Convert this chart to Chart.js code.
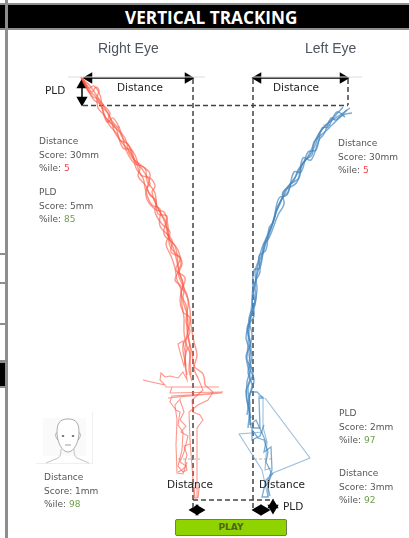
<!DOCTYPE html>
<html>
<head>
<meta charset="utf-8">
<title>Vertical Tracking</title>
<script src="https://cdn.jsdelivr.net/npm/chart.js@4"></script>
<style>
  html, body { margin: 0; padding: 0; background: #fff; overflow: hidden; }
  #page { position: relative; width: 409px; height: 538px; filter: blur(.35px); }
  #chart { position: absolute; left: 0; top: 0; }
  .bar { position: absolute; background: #8e8e8e; }
  .blk { position: absolute; background: #000; }
  .t { position: absolute; white-space: nowrap; }
  .eye { font: 14px "Liberation Sans", sans-serif; color: #4c5560; top: 40px; }
  .lab { font: 10.5px "DejaVu Sans", sans-serif; color: #222; }
  .score { font: 9px/13.6px "DejaVu Sans", sans-serif; color: #555; }
  .bad { color: #f3404a; }
  .good { color: #6f9f4d; }
  #title { left: 125px; top: 6px; font: bold 17.2px "Open Sans", sans-serif; color: #fff; }
  #play { position: absolute; left: 175px; top: 519px; width: 110px; height: 15px; background: #8fd400; border: 1px solid #6d7f4a; border-radius: 2px;
          text-align: center; font: bold 9px/15px "DejaVu Sans", sans-serif; color: #4f6418; }
  #face { position: absolute; left: 36px; top: 412px; }
</style>
</head>
<body>
<div id="page">
  <canvas id="chart" width="409" height="538"></canvas>

  <div class="bar" style="left:0;top:3px;width:409px;height:2px"></div>
  <div class="blk" style="left:0;top:5px;width:409px;height:23px"></div>
  <div class="bar" style="left:0;top:28px;width:409px;height:2px"></div>
  <div class="bar" style="left:5px;top:0;width:2.5px;height:538px"></div>
  <div class="bar" style="left:0;top:253px;width:5px;height:1.5px"></div>
  <div class="bar" style="left:0;top:282px;width:5px;height:1.5px"></div>
  <div class="bar" style="left:0;top:323px;width:5px;height:1.5px"></div>
  <div class="bar" style="left:0;top:360px;width:5px;height:3px"></div>
  <div class="blk" style="left:0;top:363px;width:5px;height:23px"></div>
  <div class="bar" style="left:0;top:386px;width:5px;height:2px"></div>

  <div class="t" id="title">VERTICAL TRACKING</div>
  <div class="t eye" style="left:98px">Right Eye</div>
  <div class="t eye" style="left:305px">Left Eye</div>

  <div class="t lab" style="left:117px;top:81px">Distance</div>
  <div class="t lab" style="left:273px;top:81px">Distance</div>
  <div class="t lab" style="left:45px;top:84px">PLD</div>
  <div class="t lab" style="left:167px;top:478px">Distance</div>
  <div class="t lab" style="left:259px;top:478px">Distance</div>
  <div class="t lab" style="left:283px;top:500px">PLD</div>

  <div class="t score" style="left:39px;top:135px">Distance<br>Score: 30mm<br>%ile: <span class="bad">5</span></div>
  <div class="t score" style="left:39px;top:186px">PLD<br>Score: 5mm<br>%ile: <span class="good">85</span></div>
  <div class="t score" style="left:338px;top:137px">Distance<br>Score: 30mm<br>%ile: <span class="bad">5</span></div>
  <div class="t score" style="left:44px;top:471px">Distance<br>Score: 1mm<br>%ile: <span class="good">98</span></div>
  <div class="t score" style="left:339px;top:407px">PLD<br>Score: 2mm<br>%ile: <span class="good">97</span></div>
  <div class="t score" style="left:339px;top:467px">Distance<br>Score: 3mm<br>%ile: <span class="good">92</span></div>

  <svg id="face" width="57" height="52" viewBox="0 0 57 52">
    <rect x="7" y="6" width="43" height="38" fill="#fafafa"/>
    <path d="M0 51.5H56.5V0" fill="none" stroke="#efefef"/>
    <path d="M21 20c0-9 3-13 11-13s11 4 11 13c0 10-5 20-11 20s-11-10-11-20z" fill="#fff" stroke="#777" stroke-width=".6"/>
    <path d="M21 21c-2-1-2 5 1 7M43 21c2-1 2 5-1 7" fill="none" stroke="#777" stroke-width=".5"/>
    <path d="M25 37c0 5-1 8-3 9l-12 5M38 37c0 5 1 8 3 9l12 5" fill="none" stroke="#888" stroke-width=".5"/>
    <ellipse cx="27" cy="24" rx="1.3" ry=".8" fill="#333"/><ellipse cx="37" cy="24" rx="1.3" ry=".8" fill="#333"/>
    <path d="M29 33h6" stroke="#777" stroke-width=".7"/>
  </svg>

  <div id="play">PLAY</div>
</div>

<script>
// values, as x,y in the 409x538 frame
const rightTrace1 = [[81,77],[86,84],[92,92],[96,87],[99,91],[97,98],[103,108],[108,113],[112,121],[118,128],[122,137],[129,146],[135,155],[138,163],[144,172],[150,183],[147,189],[153,198],[158,208],[163,218],[167,228],[169,238],[174,250],[177,262],[180,275],[184,288],[183,300],[187,315],[187,330],[190,345],[190,360],[191,375]];
const rightTrace2 = [[81,77],[84,84],[90,94],[94,100],[100,104],[106,118],[112,124],[115,133],[124,145],[130,152],[137,165],[141,175],[150,178],[155,186],[152,192],[156,204],[161,214],[166,222],[168,236],[178,250],[181,264],[178,272],[182,284],[187,295],[190,310],[191,325],[194,342],[197,355],[194,368],[198,378]];
const rightTrace3 = [[83,79],[89,88],[94,86],[100,95],[102,103],[110,113],[108,120],[116,128],[120,140],[128,144],[133,158],[140,168],[138,176],[146,186],[150,195],[156,200],[155,212],[162,224],[170,232],[166,244],[171,256],[175,268],[177,280],[181,290],[182,305],[184,318],[184,332],[186,348],[185,362],[187,375]];
const rightTrace4 = [[82,78],[88,90],[96,97],[98,108],[104,115],[110,126],[117,134],[123,148],[131,150],[136,168],[143,178],[146,192],[152,205],[160,209],[160,226],[172,240],[171,252],[180,258],[176,270],[185,278],[181,294],[186,305],[188,322],[188,338],[192,352],[194,366],[203,374],[205,385]];
const rightTrace5 = [[81,77],[92,96],[99,100],[107,122],[113,118],[121,132],[126,150],[134,163],[145,168],[147,181],[155,193],[158,214],[167,216],[164,234],[175,246],[179,272],[183,283],[180,300],[183,312],[190,318],[186,342],[190,354],[189,370],[192,381]];
const rightTrace6 = [[84,80],[90,86],[101,102],[106,110],[114,126],[125,138],[130,155],[142,166],[150,174],[146,196],[156,210],[164,212],[168,226],[170,246],[182,262],[175,280],[180,285],[188,300],[186,322],[190,332],[183,345],[186,366]];
const rightLower1 = [[190,345],[186,352],[184,366],[180,352],[178,344],[183,341],[185,352],[186,372],[187,380],[183,372],[178,378],[170,376],[165,377],[161,373],[160,380],[165,385],[143,380]];
const rightLower2 = [[165,387],[219,387],[172,387],[170,393],[223,392],[168,398],[222,393],[172,396],[170,402],[176,410],[180,412],[178,425],[183,432],[182,450],[180,458],[178,466],[183,472],[187,470],[185,462],[187,455],[184,446],[190,444]];
const rightLower3 = [[181,398],[175,405],[177,420],[176,445],[177,473],[183,474],[187,462]];
const rightLower4 = [[198,378],[203,390],[192,400],[193,412],[200,415],[203,420],[197,428],[197,455],[197,498],[194,498],[194,488],[199,488],[198,498]];
const rightLower5 = [[205,385],[213,392],[208,400],[198,405],[189,412],[190,440],[193,480],[195,498]];
const rightLower6 = [[180,400],[184,412],[180,420],[186,426],[181,432],[188,436],[184,452],[180,462],[186,466],[182,470],[178,472]];

const leftTrace1 = [[343,107],[334,117],[325,126],[318,135],[312,148],[307,158],[298,170],[294,180],[285,190],[280,204],[276,212],[272,225],[266,240],[263,252],[258,265],[256,280],[253,295],[251,312],[249,330],[248,345],[247,362],[250,378],[246,392],[249,410],[250,425]];
const leftTrace2 = [[350,108],[340,115],[330,122],[320,132],[316,143],[310,155],[302,165],[299,178],[291,184],[288,192],[281,200],[275,216],[270,232],[265,246],[262,258],[259,268],[255,285],[256,300],[249,318],[252,335],[249,352],[251,368],[247,382],[247,400],[251,418]];
const leftTrace3 = [[352,113],[343,115],[333,124],[327,130],[314,142],[312,155],[305,160],[296,176],[288,187],[283,197],[277,208],[274,220],[268,234],[262,248],[258,262],[255,272],[257,290],[253,308],[250,322],[246,338],[252,356],[248,372],[252,385],[249,398],[251,428]];
const leftTrace4 = [[345,117],[337,112],[328,127],[322,128],[316,150],[308,152],[301,172],[294,172],[287,195],[279,198],[273,222],[269,228],[266,250],[259,256],[260,272],[254,284],[252,300],[254,316],[247,328],[250,344],[246,358],[253,372],[248,388],[250,405],[248,428]];
const leftTrace5 = [[347,110],[336,120],[331,118],[324,134],[319,140],[311,160],[303,158],[297,182],[283,192],[284,204],[278,215],[269,238],[264,244],[260,268],[254,270],[253,288],[255,305],[248,325],[251,348],[249,366],[254,380],[250,395],[247,415]];
const leftLower1 = [[250,392],[257,392],[263,398],[259,398],[260,428],[252,428],[252,440],[260,436],[264,425]];
const leftLower2 = [[250,425],[256,420],[262,433],[266,442],[264,452],[271,447],[272,470],[268,480],[268,497],[262,497],[266,480],[273,473]];
const leftLower3 = [[265,398],[310,458],[273,473],[266,486]];
const leftLower4 = [[263,432],[239,434],[262,470],[268,497]];
const leftLower5 = [[258,396],[263,397],[263,427],[267,442],[265,470],[271,468]];
const leftLower6 = [[252,430],[258,438],[264,440],[268,452],[266,462],[271,472],[268,488],[270,496]];

const topGuides = [[[68,77],[205,77]], [[253,77],[362,77]]];
const midGuides = [[[178,459],[200,459]], [[254,459],[272,459]], [[112,127],[121,127]], [[323,125],[333,125]]];
const dashLines = [[[193,79],[193,511]], [[253,79],[253,509]], [[83,105.5],[348,105.5]], [[348,79],[348,105]], [[193,500],[274,500]]];
const arrows = [[[89,78],[188,78]], [[258,78],[343,78]], [[82,85],[82,100]], [[195,510],[199,510]], [[258,510],[264,510]], [[273,505],[273,508]]];
const arrowRotations = [[-90,90], [-90,90], [0,180], [-90,90], [-90,90], [0,180]];

const toPoints = pts => pts.map(p => ({ x: p[0], y: p[1] }));

const datasets = [];
const addLine = (pts, color, width, dash, tension) => datasets.push({
  data: toPoints(pts), showLine: true, borderColor: color, borderWidth: width,
  borderDash: dash || [], pointRadius: 0, tension: tension || 0
});

topGuides.forEach(g => addLine(g, '#dddddd', 1));
[rightTrace1, rightTrace2, rightTrace3, rightTrace4, rightTrace5, rightTrace6].forEach(t => addLine(t, 'rgba(252,88,68,.62)', 1.4, [], .4));
[rightLower1, rightLower2, rightLower3, rightLower4, rightLower5, rightLower6].forEach(t => addLine(t, 'rgba(252,95,78,.65)', 1.1));
[leftTrace1, leftTrace2, leftTrace3, leftTrace4, leftTrace5].forEach(t => addLine(t, 'rgba(66,132,188,.68)', 1.5, [], .4));
[leftLower1, leftLower2, leftLower6].forEach(t => addLine(t, 'rgba(70,135,190,.7)', 1.3));
[leftLower3, leftLower4, leftLower5].forEach(t => addLine(t, 'rgba(120,170,212,.75)', 1.1));
midGuides.forEach(g => addLine(g, '#b9b9b9', 1, [3, 2]));
dashLines.forEach(l => addLine(l, '#444444', 1.5, [5, 3]));

arrows.forEach((a, i) => datasets.push({
  data: toPoints(a), showLine: true, borderColor: '#000', borderWidth: 1.5, tension: 0,
  pointStyle: 'triangle', pointRadius: 5, pointRotation: arrowRotations[i],
  pointBackgroundColor: '#000', pointBorderColor: '#000'
}));

new Chart(document.getElementById('chart').getContext('2d'), {
  type: 'scatter',
  data: { datasets },
  options: {
    responsive: false,
    animation: false,
    layout: { padding: 0, autoPadding: false },
    scales: {
      x: { type: 'linear', min: 0, max: 409, display: false },
      y: { type: 'linear', min: 0, max: 538, reverse: true, display: false }
    },
    plugins: { legend: { display: false }, tooltip: { enabled: false } }
  }
});
</script>
</body>
</html>
